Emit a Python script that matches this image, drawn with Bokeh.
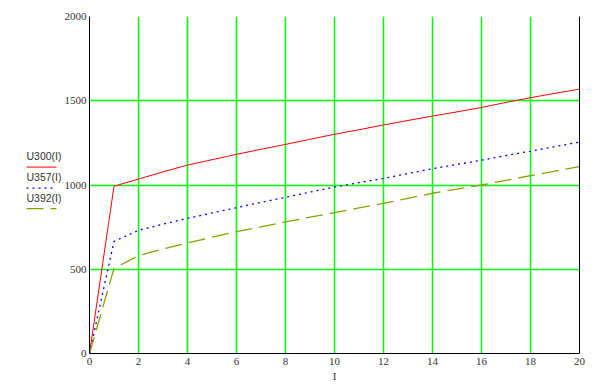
from bokeh.plotting import figure
from bokeh.models import Range1d, FixedTicker, LinearAxis
from bokeh.layouts import row
from bokeh.core.properties import value
from bokeh.embed import file_html
from bokeh.resources import INLINE

# ---- data ----
current = [0, 1, 2, 3, 4, 5, 6, 7, 8, 9, 10, 11, 12, 13, 14, 15, 16, 17, 18, 19, 20]
u300 = [0, 993, 1035, 1078, 1118, 1150, 1182, 1212, 1241, 1271, 1301, 1328, 1356,
        1383, 1409, 1434, 1460, 1490, 1518, 1544, 1569]
u357 = [0, 665, 731, 768, 802, 834, 865, 897, 927, 958, 988, 1014, 1039,
        1068, 1097, 1122, 1147, 1175, 1201, 1228, 1255]
u392 = [0, 505, 581, 620, 656, 690, 723, 752, 781, 809, 836, 864, 891,
        921, 951, 976, 1000, 1028, 1055, 1082, 1109]
series_names = ["U300(I)", "U357(I)", "U392(I)"]
x_ticks = [0, 2, 4, 6, 8, 10, 12, 14, 16, 18, 20]
y_ticks = [0, 500, 1000, 1500, 2000]
x_label = "I"

GRID = "#00ff00"
TICK_FONT = "Liberation Serif"
TXT = "#333333"
colors = ["#ff0000", "#0000ff", "#88a000"]
dashes = ["solid", "2 4", "17 7"]
widths = [1, 1.3, 1.3]

LEG_W = 61

# ---- main chart ----
p = figure(width=606 - LEG_W, height=386, output_backend="svg", toolbar_location=None,
           x_range=Range1d(0, 20), y_range=Range1d(0, 2000),
           min_border_left=28, min_border_right=27, min_border_top=16, min_border_bottom=33)
p.outline_line_color = None

for ax, ticks in ((p.xaxis[0], x_ticks), (p.yaxis[0], y_ticks)):
    ax.ticker = FixedTicker(ticks=ticks)
    ax.major_tick_in = 0
    ax.major_tick_out = 0
    ax.minor_tick_in = 0
    ax.minor_tick_out = 0
    ax.axis_line_color = "black"
    ax.axis_line_width = 1
    ax.major_label_text_font = TICK_FONT
    ax.major_label_text_font_size = "11px"
    ax.major_label_text_color = TXT
p.xaxis.major_label_standoff = 4
p.yaxis.major_label_standoff = 3

p.xaxis.axis_label = x_label
p.xaxis.axis_label_text_font = TICK_FONT
p.xaxis.axis_label_text_font_size = "11px"
p.xaxis.axis_label_text_font_style = "normal"
p.xaxis.axis_label_text_color = TXT
p.xaxis.axis_label_standoff = 2

p.xgrid.ticker = FixedTicker(ticks=x_ticks)
p.ygrid.ticker = FixedTicker(ticks=y_ticks)
p.grid.grid_line_color = GRID
p.grid.grid_line_width = 1.5

right = LinearAxis(ticker=FixedTicker(ticks=[]), major_label_text_font_size="0px",
                   major_tick_in=0, major_tick_out=0, minor_tick_in=0, minor_tick_out=0,
                   axis_line_color="black")
p.add_layout(right, "right")

for ys, c, d, w in zip([u300, u357, u392], colors, dashes, widths):
    p.line(current, ys, line_color=c, line_width=w, line_dash=d)

# ---- legend panel on the left (pixel-like coordinates, y downwards) ----
lg = figure(width=LEG_W, height=386, output_backend="svg", toolbar_location=None,
            x_range=Range1d(0, LEG_W), y_range=Range1d(386, 0),
            x_axis_location=None, y_axis_location=None,
            min_border_left=0, min_border_right=0, min_border_top=0, min_border_bottom=0)
lg.outline_line_color = None
lg.grid.visible = False

text_y = [160, 183.5, 208]
line_y = [172.5, 196.5, 220]
lg.text(x=[26] * 3, y=text_y, text=series_names, text_font=value("Liberation Sans"),
        text_font_size="10.5px", text_color=TXT, text_baseline="middle", text_align="left")
for ly, c, d, w in zip(line_y, colors, dashes, widths):
    lg.line(x=[26, 56], y=[ly, ly], line_color=c, line_width=w, line_dash=d)

layout = row(lg, p, spacing=0)
open("out.html", "w").write(file_html(layout, INLINE))
